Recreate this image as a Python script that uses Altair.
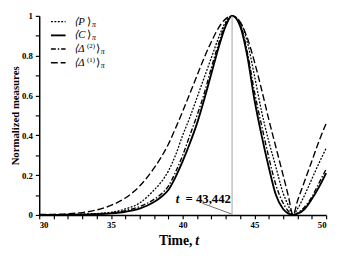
import altair as alt
import pandas as pd

# ---- data ----
T = [30, 31, 32, 33, 34, 35, 36, 37, 38, 38.5, 39, 39.5, 40, 40.5, 41, 41.5, 42, 42.5, 43,
     43.442, 44, 44.5, 45, 45.5, 46, 46.5, 47, 47.35, 47.7, 48, 48.5, 49, 49.5, 50]
P = [0.000, 0.001, 0.002, 0.004, 0.007, 0.013, 0.030, 0.060, 0.125, 0.165, 0.22, 0.30, 0.40, 0.49,
     0.59, 0.69, 0.79, 0.89, 0.97, 1.0, 0.97, 0.87, 0.70, 0.52, 0.37, 0.24, 0.11, 0.05, 0.0,
     0.03, 0.10, 0.18, 0.26, 0.335]
C = [0.000, 0.000, 0.001, 0.002, 0.004, 0.008, 0.016, 0.032, 0.065, 0.09, 0.125, 0.19, 0.27, 0.36,
     0.46, 0.58, 0.71, 0.84, 0.95, 1.0, 0.95, 0.80, 0.58, 0.40, 0.24, 0.10, 0.03, 0.008, 0.0,
     0.006, 0.03, 0.08, 0.14, 0.21]
D2 = [0.000, 0.001, 0.002, 0.003, 0.006, 0.011, 0.022, 0.042, 0.078, 0.105, 0.145, 0.215, 0.30, 0.40,
      0.50, 0.61, 0.74, 0.86, 0.96, 1.0, 0.96, 0.82, 0.62, 0.45, 0.29, 0.15, 0.06, 0.02, 0.0,
      0.01, 0.04, 0.09, 0.16, 0.23]
D1 = [0.002, 0.003, 0.006, 0.012, 0.025, 0.048, 0.085, 0.145, 0.235, 0.29, 0.355, 0.435, 0.52, 0.61,
      0.70, 0.79, 0.87, 0.94, 0.985, 1.0, 0.97, 0.89, 0.77, 0.63, 0.48, 0.34, 0.20, 0.10, 0.0,
      0.07, 0.17, 0.27, 0.37, 0.46]

# legend label parts: opening, superscript, closing, subscript
SERIES_OPEN = ["⟨P", "⟨C", "⟨Δ", "⟨Δ"]
SERIES_SUP = ["", "", "(2)", "(1)"]
SERIES_CLOSE = ["⟩", "⟩", "⟩", "⟩"]
SERIES_SUB = ["π", "π", "π", "π"]
T_MARK = 43.442
T_MARK_LABEL = "= 43,442"
X_TITLE = "Time,"
X_TITLE_VAR = "t"
Y_TITLE = "Normalized measures"
X_TICKS = list(range(30, 51))
X_LABELED = [30, 35, 40, 45, 50]
Y_TICKS = [round(0.1 * i, 1) for i in range(11)]

FONT = "Liberation Serif"
STYLES = [  # dash, width
    ([2, 1.5], 1.3),
    ([], 1.9),
    ([5, 2, 1.5, 2], 1.4),
    ([7, 3], 1.4),
]

x_enc = alt.X("t:Q", scale=alt.Scale(domain=[30, 50], nice=False, zero=False),
              axis=alt.Axis(values=X_TICKS, title=None, labelOverlap=False,
                            labelExpr="indexof(%s, datum.value) >= 0 ? datum.label : ''" % X_LABELED))
y_enc = alt.Y("v:Q", scale=alt.Scale(domain=[0, 1], nice=False),
              axis=alt.Axis(values=Y_TICKS, title=Y_TITLE, format="~g", labelOverlap=False,
                            labelExpr="round(datum.value * 10) % 2 == 0 ? datum.label : ''"))

layers = []
for vals, (dash, w) in zip([P, C, D2, D1], STYLES):
    df = pd.DataFrame({"t": T, "v": vals})
    mk = dict(color="black", strokeWidth=w, interpolate="monotone")
    if dash:
        mk["strokeDash"] = dash
    layers.append(alt.Chart(df).mark_line(**mk).encode(x=x_enc, y=y_enc))

mark_df = pd.DataFrame({"t": [T_MARK], "v": [0.0], "v2": [1.0]})
layers.append(alt.Chart(mark_df).mark_rule(color="#a0a0a0", strokeWidth=1).encode(
    x=x_enc, y=y_enc, y2="v2:Q"))
# pointer from label to base of vertical line
layers.append(alt.Chart(mark_df).mark_rule(color="#444", strokeWidth=0.8).encode(
    x=alt.value(167), y=alt.value(192), x2=alt.value(197), y2=alt.value(203)))
layers.append(alt.Chart(mark_df).mark_text(
    text="t", font=FONT, fontSize=13, fontWeight="bold", fontStyle="italic",
    align="left", baseline="alphabetic").encode(x=alt.value(140), y=alt.value(192)))
layers.append(alt.Chart(mark_df).mark_text(
    text=T_MARK_LABEL, font=FONT, fontSize=13, fontWeight="bold",
    align="left", baseline="alphabetic").encode(x=alt.value(150), y=alt.value(192)))

# x axis title with italic variable
layers.append(alt.Chart(mark_df).mark_text(
    text=X_TITLE, font=FONT, fontSize=14, fontWeight="bold",
    align="right", baseline="alphabetic").encode(x=alt.value(157), y=alt.value(235)))
layers.append(alt.Chart(mark_df).mark_text(
    text=X_TITLE_VAR, font=FONT, fontSize=14, fontWeight="bold", fontStyle="italic",
    align="left", baseline="alphabetic").encode(x=alt.value(160), y=alt.value(235)))


def txt(s, x, y, size, italic=True):
    kw = dict(text=s, font=FONT, fontSize=size, align="left", baseline="middle")
    if italic:
        kw["fontStyle"] = "italic"
    return alt.Chart(mark_df).mark_text(**kw).encode(x=alt.value(x), y=alt.value(y))


# legend (manual)
LEG_Y = [6, 20, 34, 48]
for op, sup, cl, sub, (dash, w), ly in zip(SERIES_OPEN, SERIES_SUP, SERIES_CLOSE, SERIES_SUB,
                                           STYLES, LEG_Y):
    rk = dict(color="black", strokeWidth=w)
    if dash:
        rk["strokeDash"] = dash
    layers.append(alt.Chart(mark_df).mark_rule(**rk).encode(
        x=alt.value(12), x2=alt.value(27), y=alt.value(ly)))
    x0 = 36
    layers.append(txt(op, x0, ly, 11))
    xc = x0 + 13
    if sup:
        layers.append(txt(sup, xc, ly - 3, 7, italic=False))
        xc += 9
    layers.append(txt(cl, xc, ly, 11, italic=False))
    layers.append(txt(sub, xc + 5, ly + 3, 8))

chart = alt.layer(*layers).properties(
    width=294, height=204,
    autosize=alt.AutoSizeParams(type="none"),
    padding={"left": 32, "top": 5, "right": 6, "bottom": 39},
).configure_view(stroke=None).configure_axis(
    grid=False, domainColor="black", domainWidth=1.5, tickColor="black", tickWidth=1.2,
    tickSize=4, labelFont=FONT, labelFontWeight="bold", labelFontSize=9, labelColor="black",
    titleFont=FONT, titleFontWeight="bold", titleColor="black", labelOverlap=False,
).configure_axisX(labelPadding=2
).configure_axisY(titleFontSize=11, titlePadding=1, labelPadding=3)

chart.save("out.html", embed_options={"renderer": "svg", "actions": False})
